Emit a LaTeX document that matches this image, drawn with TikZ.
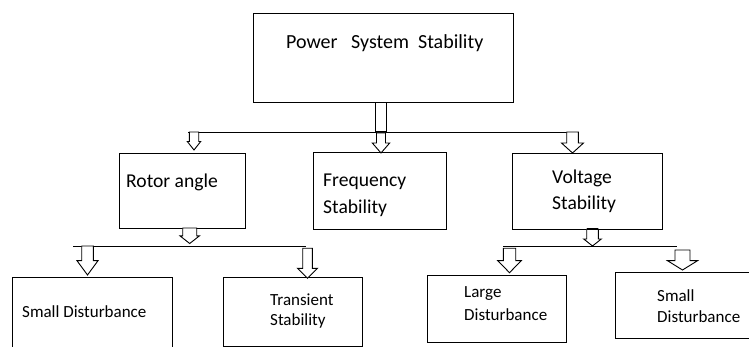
\documentclass[tikz,border=0pt]{standalone}
\usepackage{fontspec}
\setmainfont{Carlito}
\begin{document}
\begin{tikzpicture}[x=1pt,y=-1pt,
  box/.style={draw,line width=0.9pt,anchor=north west,inner sep=0pt},
  lbl/.style={anchor=west,inner sep=0pt,font=\fontsize{#1}{#1}\selectfont},
  bus/.style={line width=0.9pt},
  arrline/.style={draw,line width=0.9pt,fill=white,line join=miter}]
\newcommand\hollowarr[6]{% x, ytop, ytip, shaft half, head half, head length
  \draw[arrline] (#1-#4,#2) -- (#1-#4,#3-#6) -- (#1-#5,#3-#6) -- (#1,#3) -- (#1+#5,#3-#6) -- (#1+#4,#3-#6) -- (#1+#4,#2) -- cycle;}
\useasboundingbox (0,0) rectangle (749,347);
% boxes
\node[box,minimum width=260pt,minimum height=89pt] (top) at (253,13) {};
\node[box,minimum width=126pt,minimum height=75pt] (rotor) at (119,153) {};
\node[box,minimum width=133pt,minimum height=77pt] (freq) at (313,152) {};
\node[box,minimum width=150pt,minimum height=76pt] (volt) at (512,153) {};
\node[box,minimum width=160pt,minimum height=90pt] (smalla) at (12,277) {};
\node[box,minimum width=139pt,minimum height=69pt] (trans) at (223,277) {};
\node[box,minimum width=139pt,minimum height=67pt] (large) at (427,275) {};
\node[box,minimum width=160pt,minimum height=66pt] (smallb) at (615,272) {};
% texts
\node[lbl=20] (t1) at (286,43) {Power\ \ \ System\ \ Stability};
\node[lbl=19.6] (t2) at (126,182) {Rotor angle};
\node[lbl=19.6] (t3) at (323,182) {Frequency};
\node[lbl=19.6] (t4) at (323,208) {Stability};
\node[lbl=19.6] (t5) at (552,178) {Voltage};
\node[lbl=19.6] (t6) at (552,204) {Stability};
\node[lbl=17] (t7) at (22,312) {Small Disturbance};
\node[lbl=17] (t8) at (270,300) {Transient};
\node[lbl=17] (t9) at (270,321) {Stability};
\node[lbl=17] (t10) at (464,294) {Large};
\node[lbl=17] (t11) at (464,315) {Disturbance};
\node[lbl=17] (t12) at (657,296) {Small};
\node[lbl=17] (t13) at (657,317) {Disturbance};
% buses
\coordinate (busAL) at (188,132); \coordinate (busAR) at (579,132);
\coordinate (busBL) at (73,246);  \coordinate (busBR) at (306,246);
\coordinate (busCL) at (503,246); \coordinate (busCR) at (677,246);
\draw[bus] (busAL) -- (busAR);
\draw[bus] (busBL) -- (busBR);
\draw[bus] (busCL) -- (busCR);
% stem from top box
\draw[arrline] (top.south -| 375,0) rectangle (386,132);
\draw[line width=2pt] (375,132) -- (386,132);
% arrows
\hollowarr{194}{132}{150}{4.7}{6.7}{8.5}
\hollowarr{381}{133}{153}{4.5}{8.7}{10}
\hollowarr{572.5}{132}{153}{5.8}{11}{10}
\hollowarr{189.7}{228}{243.5}{7}{9.7}{7.6}
\hollowarr{87.5}{246}{275}{5.8}{10.5}{14.3}
\hollowarr{307.5}{248.3}{278.3}{4.8}{10}{10}
\hollowarr{592.5}{229}{246}{5.8}{8.8}{7}
\draw[line width=2pt] (586.7,229.5) -- (598.3,229.5);
\hollowarr{509.5}{248.3}{272.7}{6.2}{11.7}{12}
\hollowarr{682.5}{250}{270}{7.5}{15}{9.3}
\end{tikzpicture}
\end{document}
